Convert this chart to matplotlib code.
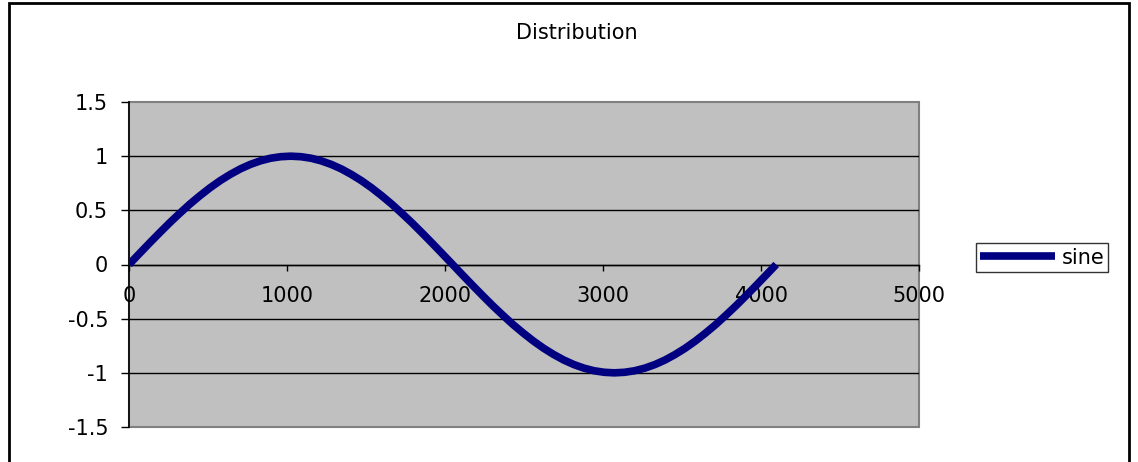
import matplotlib
matplotlib.use("Agg")
import matplotlib.pyplot as plt
from matplotlib.patches import Rectangle

x_vals = list(range(0, 4097, 64))
y_vals = [0.000, 0.098, 0.195, 0.290, 0.383, 0.471, 0.556, 0.634,
          0.707, 0.773, 0.831, 0.882, 0.924, 0.957, 0.981, 0.995,
          1.000, 0.995, 0.981, 0.957, 0.924, 0.882, 0.831, 0.773,
          0.707, 0.634, 0.556, 0.471, 0.383, 0.290, 0.195, 0.098,
          0.000, -0.098, -0.195, -0.290, -0.383, -0.471, -0.556, -0.634,
          -0.707, -0.773, -0.831, -0.882, -0.924, -0.957, -0.981, -0.995,
          -1.000, -0.995, -0.981, -0.957, -0.924, -0.882, -0.831, -0.773,
          -0.707, -0.634, -0.556, -0.471, -0.383, -0.290, -0.195, -0.098,
          0.000]

x_ticks = [0, 1000, 2000, 3000, 4000, 5000]
y_ticks = [-1.5, -1, -0.5, 0, 0.5, 1, 1.5]
y_tick_labels = ["-1.5", "-1", "-0.5", "0", "0.5", "1", "1.5"]

plt.rcParams['font.family'] = ['DejaVu Sans']
plt.rcParams['font.size'] = 15

W, H = 1138, 462
fig = plt.figure(figsize=(W / 100, H / 100), dpi=100)
fig.patch.set_facecolor('white')

# outer chart border (open at the bottom, as in the screenshot)
fig.patches.append(Rectangle((9 / W, -0.05), 1120 / W, 1 - 3 / H + 0.05,
                             transform=fig.transFigure, fill=False,
                             edgecolor='black', linewidth=2.0, clip_on=False))

ax = fig.add_axes([129 / W, 35 / H, 790 / W, 325 / H])
ax.set_facecolor('#c0c0c0')
ax.patch.set_edgecolor('#808080')
ax.patch.set_linewidth(1.5)

ax.plot(x_vals, y_vals, color='#000080', linewidth=5.5, solid_capstyle='butt',
        label='sine', zorder=3)

ax.set_xlim(0, 5000)
ax.set_ylim(-1.5, 1.5)
ax.set_xticks(x_ticks)
ax.set_xticklabels([str(v) for v in x_ticks])
ax.set_yticks(y_ticks)
ax.set_yticklabels(y_tick_labels)

ax.yaxis.grid(True, color='black', linewidth=1.0)
gl = ax.get_ygridlines()
gl[0].set_visible(False)
gl[-1].set_visible(False)
ax.set_axisbelow(True)

for s in ['top', 'right']:
    ax.spines[s].set_visible(False)
ax.spines['left'].set_color('black')
ax.spines['left'].set_linewidth(1.2)
ax.spines['bottom'].set_position(('data', 0))
ax.spines['bottom'].set_color('black')
ax.spines['bottom'].set_linewidth(1.0)

ax.tick_params(axis='y', direction='out', length=6, width=1, pad=9, colors='black')
ax.tick_params(axis='x', direction='out', length=4.5, width=1, pad=11, colors='black')

fig.text(577 / W, 1 - 33 / H, 'Distribution', ha='center', va='center')

h, l = ax.get_legend_handles_labels()
leg = fig.legend(h, l, loc='center left', bbox_to_anchor=(976 / W, 1 - 257.5 / H),
                 frameon=True, fancybox=False, shadow=False,
                 handlelength=3.6, handletextpad=0.3, borderpad=0.2,
                 borderaxespad=0)
leg.get_frame().set_edgecolor('black')
leg.get_frame().set_linewidth(1.0)

fig.savefig('out.png', dpi=100)
